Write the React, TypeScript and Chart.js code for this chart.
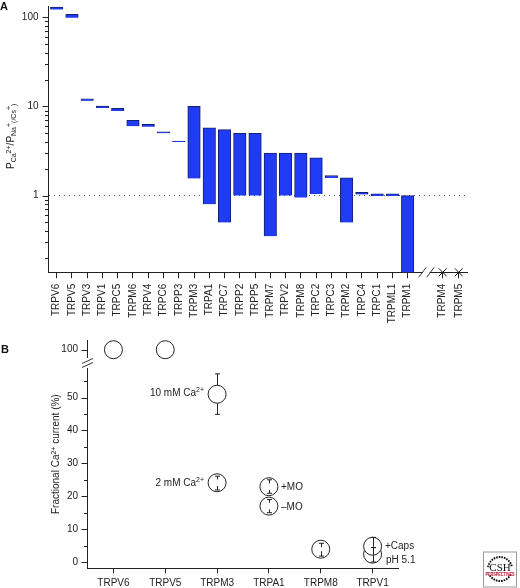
import React, { useEffect, useRef } from "react";
import { Chart, registerables } from "chart.js";

Chart.register(...registerables);
Chart.defaults.font.family = '"Liberation Sans", Arial, sans-serif';
Chart.defaults.font.size = 10;
Chart.defaults.color = "#222";

const INK = "#222";

// Panel A
const channels = ["TRPV6","TRPV5","TRPV3","TRPV1","TRPC5","TRPM6","TRPV4","TRPC6","TRPP3","TRPM3","TRPA1","TRPC7","TRPP2","TRPP5","TRPM7","TRPV2","TRPM8","TRPC2","TRPC3","TRPM2","TRPC4","TRPC1","TRPML1","TRPM1"];
const ratioLow = [122,99,11.7,9.6,8.9,6,5.9,5,4,1.56,0.8,0.5,1,1,0.35,1,0.95,1.04,1.58,0.5,1.03,1,1,0.138];
const ratioHigh = [130,108,12.2,10.1,9.5,7,6.3,5.2,4.1,10,5.75,5.5,5,5,3,3,3,2.65,1.68,1.58,1.09,1.05,1.05,1];
const impermeable = ["TRPM4","TRPM5"];
const impermeableSlots = [25.3,26.35];
const ratioTicks = [0.2,0.3,0.4,0.5,0.6,0.7,0.8,0.9,1,2,3,4,5,6,7,8,9,10,20,30,40,50,60,70,80,90,100];
const ratioLabelled = [1,10,100];

// Panel B
const fracCategories = ["TRPV6","TRPV5","TRPM3","TRPA1","TRPM8","TRPV1"];
const fullCats = ["TRPV6","TRPV5"];
const fullValues = [100,100];
const fracCats = ["TRPM3","TRPM3","TRPA1","TRPA1","TRPM8","TRPV1","TRPV1"];
const fracMean = [51,24.1,17,22.9,3.9,2.4,4.8];
const fracHigh = [57.2,26.1,19,25,5.7,4.4,7.5];
const fracLow = [44.9,21.9,15,20.9,1.8,0,4.4];
const fracStemGap = [2.8,1,1,1,0.6,0,0];
const fracTicks = [0,5,10,15,20,25,30,35,40,45,50,55];

type Seg = [string, "n" | "sub" | "sup"];

function richWidth(ctx: CanvasRenderingContext2D, segs: Seg[]) {
  let w = 0;
  for (const [t, k] of segs) {
    ctx.font = `${k === "n" ? 10 : 7}px "Liberation Sans", Arial, sans-serif`;
    w += ctx.measureText(t).width;
  }
  return w;
}

function drawRich(ctx: CanvasRenderingContext2D, x: number, y: number, segs: Seg[], rotate = false, alignRight = false) {
  ctx.save();
  ctx.translate(x, y);
  if (rotate) ctx.rotate(-Math.PI / 2);
  ctx.fillStyle = INK;
  ctx.textAlign = "left";
  ctx.textBaseline = "alphabetic";
  let cx = alignRight ? -richWidth(ctx, segs) : 0;
  for (const [t, k] of segs) {
    ctx.font = `${k === "n" ? 10 : 7}px "Liberation Sans", Arial, sans-serif`;
    ctx.fillText(t, cx, k === "sub" ? 2 : k === "sup" ? -3.5 : 0);
    cx += ctx.measureText(t).width;
  }
  ctx.restore();
}

function drawYTicks(ctx: CanvasRenderingContext2D, scale: any, isMajor: (v: number) => boolean) {
  ctx.save();
  ctx.strokeStyle = INK;
  ctx.lineWidth = 1;
  for (const t of scale.ticks) {
    const y = Math.round(scale.getPixelForValue(t.value)) + 0.5;
    const len = isMajor(t.value) ? 6 : 3.5;
    ctx.beginPath();
    ctx.moveTo(scale.right, y);
    ctx.lineTo(scale.right - len, y);
    ctx.stroke();
  }
  ctx.restore();
}

function clearPadding(s: any) {
  s.paddingTop = 0;
  s.paddingBottom = 0;
  s.paddingLeft = 0;
  s.paddingRight = 0;
}

const panelAPlugin = {
  id: "panelA",
  afterDraw(chart: any) {
    const { ctx, scales } = chart;
    drawYTicks(ctx, scales.y, (v) => ratioLabelled.includes(v));
    // axis break
    const bx = scales.x.getPixelForValue(24.25);
    const by = scales.y.bottom;
    ctx.save();
    ctx.fillStyle = "#fff";
    ctx.fillRect(bx - 4, by - 1.5, 7, 3);
    ctx.strokeStyle = INK;
    ctx.lineWidth = 0.9;
    for (const dx of [-4, 4]) {
      ctx.beginPath();
      ctx.moveTo(bx + dx - 4, by + 5);
      ctx.lineTo(bx + dx + 3.5, by - 5);
      ctx.stroke();
    }
    ctx.restore();
    // panel letter and axis title
    ctx.save();
    ctx.fillStyle = "#111";
    ctx.font = 'bold 11px "Liberation Sans", Arial, sans-serif';
    ctx.fillText("A", 0, 10);
    ctx.restore();
    drawRich(ctx, 14, 169, [["P","n"],["Ca","sub"],["2+","sup"],["/P","n"],["Na","sub"],["+","sup"],["(/Cs","sub"],["+","sup"],[")","sub"]], true);
  },
};

const panelBPlugin = {
  id: "panelB",
  afterDatasetsDraw(chart: any) {
    const { ctx, scales } = chart;
    const sy = scales.y;
    ctx.save();
    ctx.strokeStyle = INK;
    ctx.lineWidth = 1;
    fracCats.forEach((c, i) => {
      const x = Math.round(scales.x.getPixelForValue(fracCategories.indexOf(c))) + 0.5;
      const segs = [
        [fracHigh[i], fracMean[i] + fracStemGap[i]],
        [fracLow[i], fracMean[i] - fracStemGap[i]],
      ];
      for (const [end, inner] of segs) {
        const y0 = sy.getPixelForValue(end);
        const y1 = sy.getPixelForValue(inner);
        ctx.beginPath();
        ctx.moveTo(x, y0);
        ctx.lineTo(x, y1);
        ctx.moveTo(x - 2.5, y0);
        ctx.lineTo(x + 2.5, y0);
        ctx.stroke();
      }
    });
    ctx.restore();
  },
  afterDraw(chart: any) {
    const { ctx, scales } = chart;
    drawYTicks(ctx, scales.y, (v) => v % 10 === 0);
    drawYTicks(ctx, scales.y2, () => true);
    // axis break
    const ax = scales.y.right;
    const by = scales.y.top;
    ctx.save();
    ctx.fillStyle = "#fff";
    ctx.fillRect(ax - 1.5, by - 5, 3, 10);
    ctx.strokeStyle = INK;
    ctx.lineWidth = 0.9;
    for (const dy of [-2, 2]) {
      ctx.beginPath();
      ctx.moveTo(ax - 5.5, by + dy + 2.5);
      ctx.lineTo(ax + 5.5, by + dy - 2.5);
      ctx.stroke();
    }
    ctx.restore();

    ctx.save();
    ctx.fillStyle = "#111";
    ctx.font = 'bold 11px "Liberation Sans", Arial, sans-serif';
    ctx.fillText("B", 1, 23);
    ctx.restore();

    drawRich(ctx, 59, 184, [["Fractional Ca","n"],["2+","sup"],[" current (%)","n"]], true);
    drawRich(ctx, 204, 65.5, [["10 mM Ca","n"],["2+","sup"]], false, true);
    drawRich(ctx, 204, 155.5, [["2 mM Ca","n"],["2+","sup"]], false, true);
    drawRich(ctx, 281, 160, [["+MO","n"]]);
    drawRich(ctx, 281, 179.5, [["\u2013MO","n"]]);
    drawRich(ctx, 385, 219, [["+Caps","n"]]);
    drawRich(ctx, 386, 232.5, [["pH 5.1","n"]]);

    // publisher badge
    const lx = 483.5, ly = 222, lw = 33, lh = 35;
    ctx.save();
    ctx.strokeStyle = "#999";
    ctx.lineWidth = 1;
    ctx.strokeRect(lx, ly, lw, lh);
    const cx = lx + lw / 2, cy = ly + 17;
    ctx.strokeStyle = "#111";
    ctx.lineWidth = 2;
    ctx.setLineDash([1.6, 1]);
    ctx.beginPath();
    ctx.arc(cx, cy, 12, Math.PI * 1.05, Math.PI * 1.95);
    ctx.stroke();
    ctx.beginPath();
    ctx.arc(cx, cy, 12, Math.PI * 0.15, Math.PI * 0.85);
    ctx.stroke();
    ctx.setLineDash([]);
    ctx.textAlign = "center";
    ctx.textBaseline = "alphabetic";
    ctx.fillStyle = "#111";
    ctx.font = '11px "Liberation Serif", serif';
    ctx.fillText("CSH", cx, cy + 1.5);
    ctx.fillStyle = "#b3142a";
    ctx.font = 'bold 5px "Liberation Sans", Arial, sans-serif';
    ctx.fillText("PERSPECTIVES", cx, cy + 7, 29);
    ctx.restore();
  },
};

export default function App() {
  const refA = useRef<HTMLCanvasElement>(null);
  const refB = useRef<HTMLCanvasElement>(null);

  useEffect(() => {
    const a = new Chart(refA.current!, {
      type: "bar",
      data: {
        datasets: [
          {
            type: "scatter",
            data: impermeableSlots.map((x) => ({ x, y: 0.138 })),
            pointStyle: "crossRot",
            pointRadius: 5.5,
            pointBorderColor: "#111",
            pointBorderWidth: 1,
            clip: false,
          } as any,
          {
            data: channels.map((_, i) => ({ x: i, y: [ratioLow[i], ratioHigh[i]] })),
            backgroundColor: "#1f3cf4",
            borderColor: "#15206e",
            borderWidth: 1,
            barThickness: 12.5,
            clip: false,
          } as any,
        ],
      },
      options: {
        animation: false,
        responsive: false,
        layout: { padding: { left: 0, right: 53, top: 2, bottom: 2.7 } },
        plugins: { legend: { display: false }, tooltip: { enabled: false }, title: { display: false } },
        scales: {
          x: {
            type: "linear",
            offset: false,
            min: -0.537,
            max: 26.89,
            grid: { offset: false, drawOnChartArea: false, tickLength: 6, tickColor: INK },
            border: { color: INK },
            afterFit: (s: any) => { s.height = 55; clearPadding(s); },
            afterBuildTicks: (s: any) => {
              s.ticks = [...channels.map((_, i) => ({ value: i })), ...impermeableSlots.map((value) => ({ value }))];
            },
            ticks: {
              autoSkip: false,
              minRotation: 90,
              maxRotation: 90,
              padding: 5.5,
              color: INK,
              callback: (v: any) => {
                const i = impermeableSlots.indexOf(v);
                return i >= 0 ? impermeable[i] : channels[v];
              },
            },
          },
          y: {
            type: "logarithmic",
            min: 0.138,
            max: 132,
            grid: {
              drawTicks: false,
              color: (c: any) => (c.tick && c.tick.value === 1 ? "#555" : "rgba(0,0,0,0)"),
            },
            border: { color: INK, dash: [1, 4] },
            afterFit: (s: any) => { s.width = 48.5; clearPadding(s); },
            afterBuildTicks: (s: any) => { s.ticks = ratioTicks.map((value) => ({ value })); },
            ticks: {
              autoSkip: false,
              padding: 10,
              color: INK,
              callback: (v: any) => (ratioLabelled.includes(v) ? String(v) : ""),
            },
          },
        },
      },
      plugins: [panelAPlugin],
    } as any);

    const b = new Chart(refB.current!, {
      type: "line",
      data: {
        labels: fracCategories,
        datasets: [
          {
            yAxisID: "y2",
            data: fullCats.map((x, i) => ({ x, y: fullValues[i] })),
            showLine: false,
            pointRadius: 9,
            pointBorderWidth: 1,
            pointBorderColor: INK,
            pointBackgroundColor: "#fff",
            clip: false,
          },
          {
            yAxisID: "y",
            data: fracCats.map((x, i) => ({ x, y: fracMean[i] })),
            showLine: false,
            pointRadius: 9,
            pointBorderWidth: 1,
            pointBorderColor: INK,
            pointBackgroundColor: "#fff",
            clip: false,
          },
        ],
      },
      options: {
        animation: false,
        responsive: false,
        layout: { padding: { left: 0, right: 121.5, top: 10, bottom: 0 } },
        plugins: { legend: { display: false }, tooltip: { enabled: false }, title: { display: false } },
        scales: {
          x: {
            type: "category",
            offset: true,
            grid: { offset: false, drawOnChartArea: false, tickLength: 5, tickColor: INK },
            border: { color: INK },
            afterFit: (s: any) => { s.height = 19.7; clearPadding(s); },
            ticks: { autoSkip: false, maxRotation: 0, padding: 3.5, color: INK },
          },
          y: {
            type: "linear",
            position: "left",
            stack: "frac",
            stackWeight: 205.3,
            min: -1.9,
            max: 60.5,
            grid: { display: true, drawTicks: false, drawOnChartArea: false },
            border: { color: INK },
            afterFit: (s: any) => { s.width = 87.5; clearPadding(s); },
            afterBuildTicks: (s: any) => { s.ticks = fracTicks.map((value) => ({ value })); },
            ticks: {
              autoSkip: false,
              padding: 9.5,
              color: INK,
              callback: (v: any) => (v % 10 === 0 ? String(v) : ""),
            },
          },
          y2: {
            type: "linear",
            position: "left",
            stack: "frac",
            stackWeight: 23,
            min: 95.96,
            max: 102.95,
            grid: { display: true, drawTicks: false, drawOnChartArea: false },
            border: { color: INK },
            afterFit: (s: any) => { s.width = 87.5; clearPadding(s); },
            afterBuildTicks: (s: any) => { s.ticks = fullValues.slice(0, 1).map((value) => ({ value })); },
            ticks: { autoSkip: false, padding: 9.5, color: INK, callback: (v: any) => String(v) },
          },
        },
      },
      plugins: [panelBPlugin],
    } as any);

    return () => {
      a.destroy();
      b.destroy();
    };
  }, []);

  return (
    <div style={{ position: "absolute", left: 0, top: 0, width: 520, height: 588, overflow: "hidden", background: "#fff" }}>
      <canvas ref={refA} width={520} height={330} style={{ position: "absolute", left: 0, top: 0, display: "block" }} />
      <canvas ref={refB} width={520} height={258} style={{ position: "absolute", left: 0, top: 330, display: "block" }} />
    </div>
  );
}
